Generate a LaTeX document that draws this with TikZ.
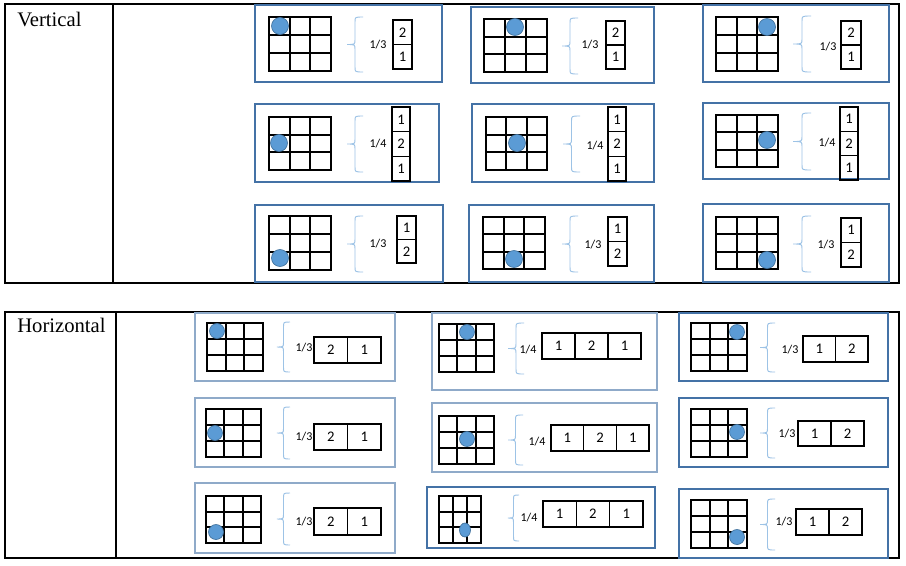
\documentclass[tikz,border=0pt]{standalone}
\usepackage{fontspec}
\setmainfont{Liberation Serif}
\newfontfamily\calib{Carlito}
\usepackage{tikz}

\definecolor{panelcol}{RGB}{68,114,166}
\definecolor{palecol}{RGB}{143,170,201}
\definecolor{dotfill}{RGB}{91,155,213}
\definecolor{dotline}{RGB}{65,113,156}
\definecolor{bracecol}{RGB}{157,195,230}

\begin{document}
\begin{tikzpicture}[x=0.75pt, y=-0.75pt,
    panel/.style={draw=panelcol, line width=1pt},
    palepanel/.style={draw=palecol, line width=1pt},
    rule/.style={line width=1pt},
    gridline/.style={line width=1.3pt},
    bluedot/.style={fill=dotfill, draw=dotline, line width=0.5pt},
    bracket/.style={draw=bracecol, line width=0.7pt},
    fraclabel/.style={font=\calib\fontsize{9}{10}\selectfont, inner sep=0pt},
    title/.style={anchor=base west, inner sep=0pt, font=\fontsize{15.5}{18}\selectfont},
    cell/.style={draw, line width=1.1pt, inner sep=0pt, font=\calib\fontsize{11}{12}\selectfont}]
    \useasboundingbox (0,0) rectangle (906,565);
    \fill[white] (0,0) rectangle (906,565);
    \draw[rule] (5,4) rectangle (899,283);
    \draw[rule] (113,4) -- (113,283);
    \draw[rule] (5,312) rectangle (899,558);
    \draw[rule] (116,312) -- (116,558);
    \node[title] (vert) at (17,26) {Vertical};
    \node[title] (hori) at (17,332) {Horizontal};
    \foreach \x/\y/\X/\Y/\s in {255/5/442/82/panel, 471/7/654/83/panel, 703/5/889/82/panel,
      255/104/439/182/panel, 472/104/654/182/panel, 703/103/889/179/panel,
      255/205/443/282/panel, 469/205/654/282/panel, 703/204/889/282/panel,
      195/313/395/381/palepanel, 432/313/657/390/palepanel, 679/313/888/381/panel,
      195/398/395/467/palepanel, 432/403/657/472/palepanel, 679/398/888/467/panel,
      195/483/395/553/palepanel, 427/487/655/548/panel, 679/489/888/558/panel}{
      \draw[\s] (\x,\y) rectangle (\X,\Y);
    }
    \foreach \x/\y/\X/\Y in {269/17/331/71, 484/19/547/72, 716/17/778/71,
      269/117/331/170, 486/117/547/170, 716/115/778/167,
      269/216/331/270, 483/217/545/269, 716/217/778/269,
      207/323/263/371, 439/324/494/372, 691/323/747/371,
      206/409/261/457, 439/416/494/464, 691/409/747/457,
      206/496/261/543, 439/496/481/543, 691/500/747/548}{
      \draw[gridline] (\x,\y) rectangle (\X,\Y);
      \foreach \i in {1,2}{
        \draw[gridline] (\x+\i*\X/3-\i*\x/3,\y) -- (\x+\i*\X/3-\i*\x/3,\Y);
        \draw[gridline] (\x,\y+\i*\Y/3-\i*\y/3) -- (\X,\y+\i*\Y/3-\i*\y/3);
      }
    }
    \foreach \x/\y/\r/\R in {280/26/8.5/8.5, 515/27/8.5/8.5, 767/27/8.5/8.5,
      279/143/8.5/8.5, 517/143/8.5/8.5, 767/140/8.5/8.5,
      280/258/8.5/8.5, 514/259/8.5/8.5, 767/260/8.5/8.5,
      217/331/7.5/7.5, 467/332/7.5/7.5, 737/332/7.5/7.5,
      215/433/7.5/7.5, 467/439/7.5/7.5, 737/432/7.5/7.5,
      216/532/7.5/7.5, 465/530/5.5/7, 737/537/7.5/7.5}{
      \draw[bluedot] (\x,\y) ellipse [x radius=\r, y radius=\R];
    }
    \foreach \n/\x/\X/\y/\Y/\lx/\ly/\d in {V1/347/363/17/72/378/45/3, V2/562/578/18/74/590/45/3, V3/793/811/16/72/828/47/3,
      V4/347/363/116/172/378/144/4, V5/563/580/116/172/595/146/4, V6/793/811/113/170/827/143/4,
      V7/347/363/216/272/378/244/3, V8/562/578/216/272/593/245/3, V9/793/811/216/272/826/245/3,
      H1/277/290/322/372/304/348/3, H2/508/524/323/374/528/350/4, H3/760/775/323/372/790/350/3,
      H4/277/290/407/459/304/437/3, H5/508/523/415/465/537/442/4, H6/760/775/408/458/787/434/3,
      H7/277/290/493/545/304/522/3, H8/508/519/495/541/529/518/4, H9/760/775/499/550/784/522/3}{
      \pgfmathsetmacro\midx{(\x+\X)/2}
      \pgfmathsetmacro\midy{(\y+\Y)/2}
      \draw[bracket] (\X,\y) .. controls (\midx,\y) .. (\midx,\y+5) -- (\midx,\midy-5)
        .. controls (\midx,\midy) .. (\x,\midy) .. controls (\midx,\midy) .. (\midx,\midy+5)
        -- (\midx,\Y-5) .. controls (\midx,\Y) .. (\X,\Y);
      \node[fraclabel] (lab\n) at (\lx,\ly) {1/\d};
    }
    \foreach \n/\x/\y/\w/\h/\ux/\uy/\vals in {V1/393/20/19/24.5/0/1/{2,1}, V2/606/21/19/24/0/1/{2,1},
      V3/841/21/20/24/0/1/{2,1}, V4/392/107/18/24.7/0/1/{1,2,1}, V5/608/107/18/24.7/0/1/{1,2,1},
      V6/840/107/18/24.3/0/1/{1,2,1}, V7/397/216/19/23.5/0/1/{1,2}, V8/608/217/19/24.5/0/1/{1,2},
      V9/841/218/20/24.5/0/1/{1,2},
      H1/314/337/33.5/26/1/0/{2,1}, H2/542/333/33/26/1/0/{1,2,1}, H3/803/336/32.5/26/1/0/{1,2},
      H4/314/424/33.5/26/1/0/{2,1}, H5/551/425/32.7/26/1/0/{1,2,1}, H6/798/421/33/25/1/0/{1,2},
      H7/314/508/33.5/27/1/0/{2,1}, H8/543/501/33.3/26/1/0/{1,2,1}, H9/796/509/33/26/1/0/{1,2}}{
      \foreach \e [count=\k] in \vals{
        \node[cell, minimum width=\w*0.75pt, minimum height=\h*0.75pt] (\n-\k)
          at (\x+\w/2+\ux*\w*\k-\ux*\w, \y+\h/2+\uy*\h*\k-\uy*\h) {\e};
      }
    }
  \end{tikzpicture}
\end{document}
